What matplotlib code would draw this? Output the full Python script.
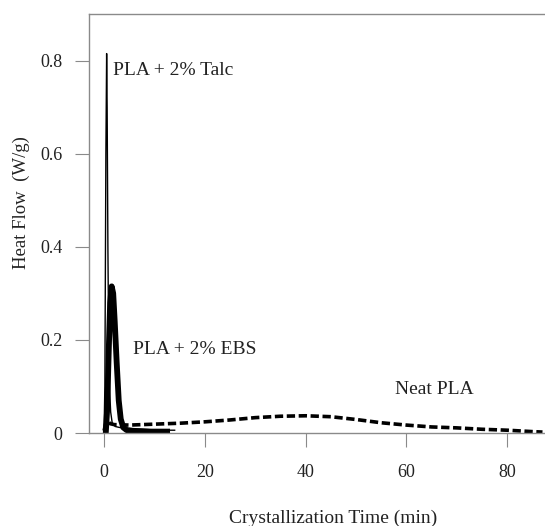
import matplotlib
matplotlib.use('Agg')
import matplotlib.pyplot as plt

# 数据
talc_t = [0.0, 0.15, 0.35, 0.5, 0.6, 0.75, 0.9, 1.1, 1.3, 1.6, 2.2, 3.0, 5.0, 8.0, 11.0, 14.0]
talc_q = [0.01, 0.1, 0.6, 0.815, 0.7, 0.4, 0.2, 0.09, 0.045, 0.022, 0.014, 0.012, 0.01, 0.008, 0.006, 0.006]

ebs_t = [0.3, 0.6, 0.9, 1.2, 1.5, 1.8, 2.1, 2.5, 2.9, 3.3, 3.8, 4.5, 6.0, 9.0, 12.5]
ebs_q = [-0.005, 0.05, 0.17, 0.28, 0.315, 0.3, 0.24, 0.15, 0.07, 0.03, 0.012, 0.006, 0.004, 0.003, 0.003]

neat_t = [0, 0.3, 0.7, 1.2, 2, 5, 10, 15, 20, 25, 30, 35, 40, 45, 50, 55, 60, 65, 70, 75, 80, 85, 87]
neat_q = [0.005, 0.02, 0.025, 0.02, 0.018, 0.017, 0.019, 0.021, 0.024, 0.028, 0.033, 0.036, 0.037,
          0.035, 0.029, 0.022, 0.017, 0.013, 0.011, 0.008, 0.006, 0.003, 0.002]

x_ticks = [0, 20, 40, 60, 80]
y_ticks = [0, 0.2, 0.4, 0.6, 0.8]
y_labels = ['0', '0.2', '0.4', '0.6', '0.8']

plt.rcParams['font.family'] = ['Liberation Serif', 'DejaVu Serif']
gray = '#8a8a8a'
txt = '#222222'

fig = plt.figure(figsize=(5.45, 5.26), dpi=100)
ax = fig.add_axes([89 / 545, 1 - 433 / 526, 1 - 89 / 545, (433 - 14) / 526])

ax.plot(neat_t, neat_q, color='black', lw=2.6, dashes=(2.3, 1.0))
ax.plot(ebs_t, ebs_q, color='black', lw=4.2, solid_joinstyle='round')
ax.plot(talc_t, talc_q, color='black', lw=1.0)

ax.set_xlim(-3, 87.5)
ax.set_ylim(0, 0.9)
ax.set_xticks(x_ticks)
ax.set_yticks(y_ticks)
ax.set_yticklabels(y_labels)

for s in ['left', 'bottom', 'top']:
    ax.spines[s].set_color(gray)
    ax.spines[s].set_linewidth(1.0)
ax.spines['right'].set_visible(False)
ax.tick_params(axis='both', direction='out', length=10, width=0.8, color=gray,
               labelsize=13, labelcolor=txt)
ax.tick_params(axis='x', pad=12)
ax.tick_params(axis='y', pad=9)

ax.set_ylabel('Heat Flow  (W/g)', fontsize=13.5, color=txt)
ax.yaxis.set_label_coords(-0.13, 0.55)
ax.set_xlabel('Crystallization Time (min)', fontsize=14, color=txt)
ax.xaxis.set_label_coords(0.535, -0.182)

ax.text(1.8, 0.778, 'PLA + 2% Talc', fontsize=14, color=txt, va='center')
ax.text(5.8, 0.179, 'PLA + 2% EBS', fontsize=14, color=txt, va='center')
ax.text(57.7, 0.093, 'Neat PLA', fontsize=14, color=txt, va='center')

plt.savefig('out.png', dpi=100)
